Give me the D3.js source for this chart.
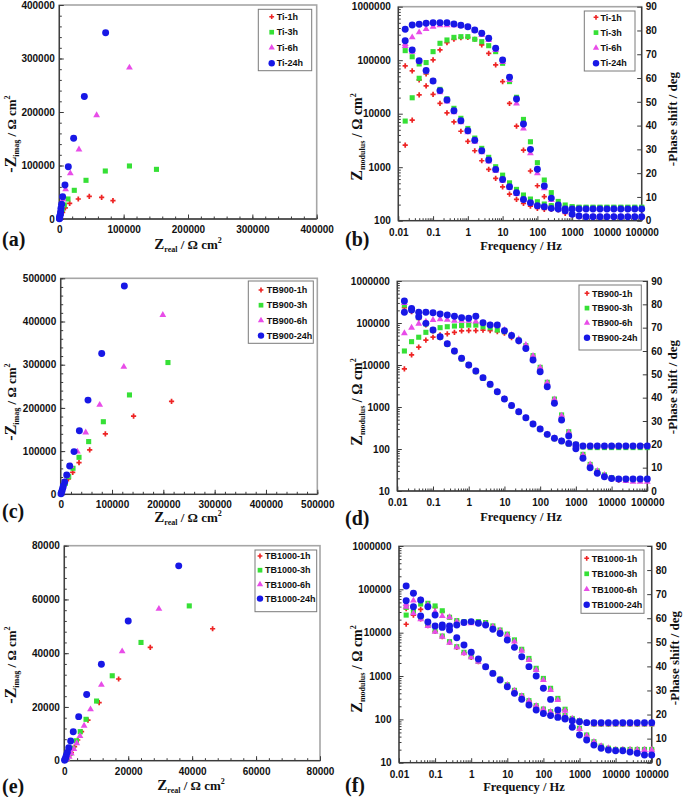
<!DOCTYPE html>
<html><head><meta charset="utf-8">
<script src="https://cdn.jsdelivr.net/npm/d3@7/dist/d3.min.js"></script>
<style>body{margin:0;background:#fff}svg{display:block}</style>
</head><body>
<svg id="c" width="685" height="797"></svg>
<script>
// ---------------- DATA ----------------
const freq = [0.0158,0.0251,0.0398,0.0631,0.1,0.158,0.251,0.398,0.631,1,1.58,2.51,3.98,6.31,10,15.8,25.1,39.8,63.1,100,158,251,398,631,1000,1580,2510,3980,6310,10000,15800,25100,39800,63100,100000];

const tiNames = ["Ti-1h","Ti-3h","Ti-6h","Ti-24h"];
const tb900Names = ["TB900-1h","TB900-3h","TB900-6h","TB900-24h"];
const tb1000Names = ["TB1000-1h","TB1000-3h","TB1000-6h","TB1000-24h"];

const nyqTicksA = [0,100000,200000,300000,400000];
const nyqTicksC = [0,100000,200000,300000,400000,500000];
const nyqTicksE = [0,20000,40000,60000,80000];
const freqTicks = [0.01,0.1,1,10,100,1000,10000,100000];
const modTicksB = [100,1000,10000,100000,1000000];
const modTicksDF = [10,100,1000,10000,100000,1000000];
const phaseTicks = [0,10,20,30,40,50,60,70,80,90];

// Nyquist (a) [Zreal, -Zimag]
const ti1hNyq = [[83400,34300],[65800,40500],[46600,42400],[29500,37400],[16100,29300],[9300,20600],[5200,12500],[3100,7500],[1600,3700],[800,1600],[300,500]];
const ti3hNyq = [[151000,92800],[109000,99100],[71500,89700],[41500,72300],[23300,53600],[13500,37400],[7800,26200],[4700,18100],[2600,10600],[1000,5600],[500,2500],[200,800]];
const ti6hNyq = [[109000,283000],[58000,194000],[30600,130000],[17100,85400],[9800,55500],[5700,36800],[3600,26200],[2100,16800],[1200,10000],[700,5500],[300,2500],[100,800]];
const ti24hNyq = [[72000,348000],[38900,229000],[22300,151000],[14000,97800],[8800,63600],[5200,41700],[3600,27400],[2600,20000],[2100,13700],[1600,8700],[1000,5600],[500,3100],[400,1200],[200,600]];

// Bode (b)
const ti1hMod = [78000,63000,43000,33000,23000,15600,10400,7000,4700,3040,2030,1320,910,620,430,315,250,211,188,170,163,163,163,163,163,163,163,163,163,163,163,163,163,163,163];
const ti1hPhase = [31.8,42.3,52.9,61.7,67.6,71.8,74.9,76.3,77.0,77.1,76.3,73.9,70.4,65.5,58.5,49.3,39.8,29.7,20.9,14.7,10.1,6.3,4.5,3.1,2.4,1.7,1.7,1.7,1.7,1.7,1.7,1.7,1.7,1.7,1.7];
const ti3hMod = [151000,116000,85000,61000,41000,28500,19000,12600,8200,5300,3500,2250,1530,1020,710,510,385,302,254,226,205,191,183,178,178,178,178,178,178,178,178,178,178,178,178];
const ti3hPhase = [41.9,51.7,59.9,66.5,71.1,74.6,76.0,77.1,77.4,77.4,76.3,75.3,73.6,71.1,66.2,58.5,51.9,42.6,33.2,24.4,17.1,11.8,8.1,6.6,5.9,5.6,5.6,5.6,5.6,5.6,5.6,5.6,5.6,5.6,5.6];
const ti6hMod = [184000,144000,94000,61000,40000,25000,16800,10600,6900,4500,3000,1890,1270,860,560,414,315,243,211,188,178,170,165,165,165,165,165,165,165,165,165,165,165,165,165];
const ti6hPhase = [74.3,77.1,79.2,80.6,81.6,82.2,82.2,82.2,81.9,81.3,79.9,78.1,76.0,71.8,66.7,59.2,49.3,38.8,28.3,19.9,13.6,8.7,5.9,3.8,2.4,1.7,1.7,1.7,1.7,1.7,1.7,1.7,1.7,1.7,1.7];
const ti24hMod = [231000,155000,98000,64000,41000,27000,18000,11400,7400,4800,3200,2030,1360,910,590,430,334,250,217,191,183,170,165,165,165,165,165,165,165,165,165,165,165,165,165];
const ti24hPhase = [80.5,82.3,82.6,83.0,83.3,83.3,83.3,82.7,82.2,81.6,80.2,78.8,76.7,72.5,67.6,60.3,51.2,40.7,30.0,21.6,14.6,9.5,6.6,4.2,2.7,2.0,1.7,1.7,1.7,1.7,1.7,1.7,1.7,1.7,1.7];

// Nyquist (c)
const tb900_1hNyq = [[216000,215000],[142000,181000],[87000,140000],[56500,103000],[35700,73300],[23400,50900],[14900,35500],[9100,23900],[5200,16200],[2600,9300],[1300,4000],[500,1200]];
const tb900_3hNyq = [[209000,305000],[134000,230000],[83100,168000],[54500,122000],[35700,85600],[24000,60200],[15600,40900],[9100,25500],[5200,16200],[2600,9300],[1300,4000],[500,1200]];
const tb900_6hNyq = [[199000,415000],[123000,295000],[76000,207000],[48700,143000],[32500,98800],[20100,65600],[13000,43200],[7800,28500],[5200,17700],[2600,10000],[1300,4500],[500,1500]];
const tb900_24hNyq = [[124000,482000],[79900,326000],[53200,218000],[36400,147000],[26000,98800],[17500,65600],[11700,44800],[7800,28500],[5200,20000],[3900,13900],[2600,8500],[1300,3900],[650,1500]];

// Bode (d)
const tb900_1hMod = [232000,186000,129000,90000,65000,44800,31000,20800,13900,9640,6940,4820,3340,2280,1520,1060,760,547,387,294,219,176,152,134,124,116,116,116,116,116,116,116,116,116,116];
const tb900_1hPhase = [52.3,58.3,61.7,64.7,65.9,66.9,67.3,68.0,68.6,68.7,68.7,68.9,68.7,68.3,67.6,65.7,64.0,61.9,57.6,52.6,46.1,39.0,32.1,25.0,19.7,15.4,11.1,8.3,6.6,5.4,4.7,4.7,4.7,4.7,4.7];
const tb900_3hMod = [268000,204000,134000,95000,66000,45600,31000,20800,13900,9820,6940,4820,3340,2280,1520,1060,760,547,387,294,219,176,150,132,120,112,108,108,108,108,108,108,108,108,108];
const tb900_3hPhase = [60.0,64.0,65.9,68.0,69.0,70.0,70.4,70.7,70.9,71.1,71.1,70.4,70.0,69.0,68.3,66.6,64.7,62.3,58.0,53.0,46.6,39.4,32.6,25.4,20.0,15.7,11.4,8.6,6.9,5.7,5.0,5.0,5.0,5.0,5.0];
const tb900_6hMod = [299000,211000,134000,102000,67000,46500,31600,21100,14200,9820,7070,4900,3400,2320,1550,1080,774,557,394,299,223,180,155,136,124,114,114,114,114,114,114,114,114,114,114];
const tb900_6hPhase = [67.6,70.0,71.7,72.6,73.3,73.6,73.4,73.0,72.9,72.9,72.6,71.9,71.1,70.9,69.0,66.9,65.1,62.6,57.9,52.9,46.4,39.3,32.3,25.1,19.7,15.4,11.4,8.6,6.9,5.4,4.7,4.3,4.0,4.0,4.0];
const tb900_24hMod = [334000,223000,141000,98000,68000,47300,32200,21500,14400,10000,7200,5000,3470,2320,1550,1080,774,557,394,299,223,180,155,136,127,118,118,118,118,118,118,118,118,118,118];
const tb900_24hPhase = [76.6,77.6,76.6,76.6,76.4,75.9,75.4,74.9,74.3,74.0,74.9,72.1,71.1,71.1,68.7,66.6,64.4,61.1,56.1,51.1,44.7,37.6,30.4,23.6,18.1,14.0,10.0,7.6,6.1,5.4,5.1,5.1,5.1,5.1,5.1];

// Nyquist (e)
const tb1000_1hNyq = [[46400,49100],[26900,42200],[17000,30400],[10900,21600],[7400,15100],[5400,10800],[4200,7700],[3200,5200],[2200,3000],[1400,1500],[700,600],[300,200]];
const tb1000_3hNyq = [[39100,57600],[24000,44000],[15000,31600],[10100,22200],[6800,15400],[5000,10800],[3800,7400],[2700,4600],[1800,2700],[1000,1200],[400,400]];
const tb1000_6hNyq = [[29600,56500],[18100,40700],[11600,28200],[8200,19100],[6200,13000],[4900,9200],[3900,6500],[3000,4300],[2200,2700],[1500,1500],[800,700],[300,200]];
const tb1000_24hNyq = [[35800,72500],[20000,52000],[11600,35900],[7000,24600],[4500,16400],[2800,10800],[2000,7300],[1400,4800],[940,3100],[630,1900],[400,1000],[200,500],[100,200]];

// Bode (f)
const tb1000_1hMod = [35800,27900,20700,14500,10700,8090,5980,4590,3400,2700,2140,1580,1150,838,620,459,345,265,203,170,148,133,119,104,92,84,77,77,77,77,77,77,77,77,77];
const tb1000_1hPhase = [57.5,61.3,63.7,65.1,64.5,62.7,60.4,59.0,58.4,58.4,58.4,57.9,56.5,54.8,53.0,50.5,46.8,42.9,38.8,34.6,30.5,26.3,21.9,17.4,14.0,11.4,8.6,6.9,6.0,5.5,5.5,5.5,5.5,5.5,5.5];
const tb1000_3hMod = [38400,29500,21400,15000,11100,8380,6200,4750,3520,2790,2180,1610,1170,853,631,467,352,270,207,173,150,135,122,105,93,85,78,78,78,78,78,78,78,78,78];
const tb1000_3hPhase = [61.3,64.1,65.9,66.2,65.1,63.1,60.4,59.0,58.6,58.6,58.6,58.2,56.8,55.1,53.4,51.0,47.1,43.3,39.2,35.0,30.9,26.7,22.2,17.7,14.3,11.5,8.7,6.9,6.0,5.5,5.5,5.5,5.5,5.5,5.5];
const tb1000_6hMod = [39800,27900,20300,14300,10500,8090,5880,4590,3340,2700,2140,1580,1150,838,620,459,345,265,203,170,148,133,119,104,92,84,77,77,77,77,77,77,77,77,77];
const tb1000_6hPhase = [65.9,67.3,67.6,65.5,62.7,60.9,60.4,58.6,57.9,57.9,57.9,57.6,56.5,54.8,53.0,50.3,46.5,42.6,38.5,34.3,30.2,26.0,21.6,17.4,14.0,11.2,8.6,6.9,6.0,5.3,5.3,5.3,5.3,5.3,5.3];
const tb1000_24hMod = [119000,80900,56700,39800,25600,15000,11500,7670,5190,3520,2470,1640,1150,809,567,398,290,214,164,137,122,111,102,93,88,84,84,84,84,84,84,84,84,84,84];
const tb1000_24hPhase = [67.3,64.8,60.9,58.4,56.8,56.2,56.8,57.2,58.2,58.6,57.9,57.2,55.4,53.7,51.0,47.9,44.0,39.9,36.0,30.9,26.3,21.9,18.4,14.7,11.5,9.4,7.3,6.0,5.3,5.0,5.0,4.4,3.9,3.2,3.2];

// ---------------- DRAWING ----------------
const SANS = '"Liberation Sans", Arial, sans-serif';
const SERIF = '"Liberation Serif", "Times New Roman", serif';
const styles = [
  {color:'#ee2424', sym:d3.symbolCross, size:15},
  {color:'#36e036', sym:d3.symbolSquare, size:26},
  {color:'#e84ce8', sym:d3.symbolTriangle, size:20},
  {color:'#1818e6', sym:d3.symbolCircle, size:38}
];
const svg = d3.select('#c');
const AX = '#3a3a3a';

function styleAxis(sel) {
  sel.attr('font-family', SANS).attr('font-size', 10).attr('font-weight', 'bold');
  sel.select('.domain').remove();
  sel.selectAll('line').attr('stroke', AX).attr('stroke-width', 1);
  sel.selectAll('text').attr('fill', '#111');
}

function rich(g, x, y, parts, rotate) {
  const t = g.append('text').attr('font-family', SERIF).attr('font-weight', 'bold')
    .attr('text-anchor', 'middle').attr('fill', '#111')
    .attr('transform', `translate(${x},${y})` + (rotate ? ' rotate(-90)' : ''));
  let cur = 0;
  parts.forEach(p => {
    const off = p.dy || 0;
    t.append('tspan').attr('font-size', p.size).attr('dy', off - cur).text(p.t);
    cur = off;
  });
}

function frame(g, c, rightDark) {
  g.append('rect').attr('x', c.x0).attr('y', c.y0).attr('width', c.x1 - c.x0).attr('height', c.y1 - c.y0)
    .attr('fill', 'none').attr('stroke', '#a6a6a6').attr('stroke-width', 1.6);
  g.append('line').attr('x1', c.x0).attr('x2', c.x0).attr('y1', c.y0).attr('y2', c.y1).attr('stroke', AX).attr('stroke-width', 1.3);
  g.append('line').attr('x1', c.x0).attr('x2', c.x1).attr('y1', c.y1).attr('y2', c.y1).attr('stroke', AX).attr('stroke-width', 1.3);
  if (rightDark) g.append('line').attr('x1', c.x1).attr('x2', c.x1).attr('y1', c.y0).attr('y2', c.y1).attr('stroke', AX).attr('stroke-width', 1.3);
}

function legend(g, L, names) {
  g.append('rect').attr('x', L.x).attr('y', L.y).attr('width', L.w).attr('height', L.h)
    .attr('fill', '#fff').attr('stroke', '#7a7a7a').attr('stroke-width', 1);
  names.forEach((n, i) => {
    const yy = L.r0 + i * L.dr;
    const s = styles[i];
    g.append('path').attr('d', d3.symbol().type(s.sym).size(s.size * 0.85)())
      .attr('transform', `translate(${L.mx},${yy})`).attr('fill', s.color);
    g.append('text').attr('x', L.tx).attr('y', yy + 3.2).attr('font-family', SANS).attr('font-weight', 'bold')
      .attr('font-size', 9).attr('fill', '#111').text(n);
  });
}

function plotPoints(g, pts, s) {
  g.selectAll(null).data(pts).enter().append('path')
    .attr('d', d3.symbol().type(s.sym).size(s.size)())
    .attr('transform', d => `translate(${d[0]},${d[1]})`)
    .attr('fill', s.color);
}

function nyquist(c) {
  const g = svg.append('g');
  const x = d3.scaleLinear().domain([0, c.max]).range([c.x0, c.x1]);
  const y = d3.scaleLinear().domain([0, c.max]).range([c.y1, c.y0]);
  frame(g, c, false);
  const minor = d3.range(0, c.max + 1, c.minor);
  g.append('g').attr('transform', `translate(${c.x0},0)`).call(d3.axisLeft(y).tickValues(minor).tickSize(-2.5).tickFormat('')).call(styleAxis);
  g.append('g').attr('transform', `translate(0,${c.y1})`).call(d3.axisBottom(x).tickValues(minor).tickSize(-2.5).tickFormat('')).call(styleAxis);
  g.append('g').attr('transform', `translate(${c.x0},0)`).call(d3.axisLeft(y).tickValues(c.ticks).tickSize(-4.5).tickPadding(4.5).tickFormat(d3.format('d'))).call(styleAxis);
  g.append('g').attr('transform', `translate(0,${c.y1})`).call(d3.axisBottom(x).tickValues(c.ticks).tickSize(-4.5).tickPadding(7).tickFormat(d3.format('d'))).call(styleAxis);
  c.data.forEach((ser, i) => plotPoints(g, ser.map(d => [x(d[0]), y(d[1])]), styles[i]));
  legend(g, c.leg, c.names);
  rich(g, c.xt[0], c.xt[1], [{t:'Z', size:15}, {t:'real', size:8, dy:3}, {t:' / Ω cm', size:13}, {t:'2', size:8, dy:-6}], false);
  rich(g, c.yt[0], c.yt[1], [{t:'-Z', size:16}, {t:'imag', size:8, dy:3}, {t:' / Ω cm', size:13}, {t:'2', size:8, dy:-6}], true);
  g.append('text').attr('x', c.lab[0]).attr('y', c.lab[1]).attr('font-family', SERIF).attr('font-weight', 'bold')
    .attr('font-size', 20).attr('fill', '#111').text(c.label);
}

function bode(c) {
  const g = svg.append('g');
  const x = d3.scaleLog().domain([0.01, 100000]).range([c.x0, c.x1]);
  const y = d3.scaleLog().domain(c.ydom).range([c.y1, c.y0]);
  const yp = d3.scaleLinear().domain([0, 90]).range([c.y1, c.y0]);
  frame(g, c, true);
  const minorX = [], minorY = [];
  freqTicks.forEach(t => { if (t < 100000) [2,3,4,5,6,7,8,9].forEach(m => minorX.push(t * m)); });
  c.yticks.forEach(t => { if (t < c.ydom[1]) [2,3,4,5,6,7,8,9].forEach(m => minorY.push(t * m)); });
  g.append('g').attr('transform', `translate(0,${c.y1})`).call(d3.axisBottom(x).tickValues(minorX).tickSize(-2.5).tickFormat('')).call(styleAxis);
  g.append('g').attr('transform', `translate(${c.x0},0)`).call(d3.axisLeft(y).tickValues(minorY).tickSize(-2.5).tickFormat('')).call(styleAxis);
  g.append('g').attr('transform', `translate(0,${c.y1})`).call(d3.axisBottom(x).tickValues(freqTicks).tickSize(-4.5).tickPadding(c.xpad)
    .tickFormat(d => d < 1 ? String(d) : d3.format('d')(d))).call(styleAxis);
  g.append('g').attr('transform', `translate(${c.x0},0)`).call(d3.axisLeft(y).tickValues(c.yticks).tickSize(-4.5).tickPadding(7.5).tickFormat(d3.format('d'))).call(styleAxis);
  g.append('g').attr('transform', `translate(${c.x1},0)`).call(d3.axisRight(yp).tickValues(phaseTicks).tickSize(-4.5).tickPadding(4)).call(styleAxis);
  c.mods.forEach((m, i) => {
    plotPoints(g, m.map((v, k) => [x(freq[k]), y(v)]), styles[i]);
    plotPoints(g, c.phases[i].map((v, k) => [x(freq[k]), yp(v)]), styles[i]);
  });
  legend(g, c.leg, c.names);
  rich(g, c.xt[0], c.xt[1], [{t:'Frequency / Hz', size:12.5}], false);
  rich(g, c.yt[0], c.yt[1], [{t:'Z', size:16}, {t:'modulus', size:8, dy:3}, {t:' / Ω cm', size:14}, {t:'2', size:8, dy:-6}], true);
  rich(g, c.pt[0], c.pt[1], [{t:'-Phase shift / deg', size:13}], true);
  g.append('text').attr('x', c.lab[0]).attr('y', c.lab[1]).attr('font-family', SERIF).attr('font-weight', 'bold')
    .attr('font-size', 20).attr('fill', '#111').text(c.label);
}

nyquist({x0:59.3, x1:316.7, y0:5, y1:219, max:400000, ticks:nyqTicksA, minor:20000,
  data:[ti1hNyq, ti3hNyq, ti6hNyq, ti24hNyq], names:tiNames,
  leg:{x:258.3, y:9.3, w:53.4, h:61.4, r0:16.7, dr:15.5, mx:271.7, tx:276.7},
  xt:[188, 249], yt:[16, 134], lab:[2, 246], label:'(a)'});
nyquist({x0:60.7, x1:317.3, y0:278.3, y1:494.3, max:500000, ticks:nyqTicksC, minor:20000,
  data:[tb900_1hNyq, tb900_3hNyq, tb900_6hNyq, tb900_24hNyq], names:tb900Names,
  leg:{x:248.3, y:281, w:65, h:62.3, r0:290, dr:15.2, mx:261, tx:266.7},
  xt:[188, 522], yt:[16, 402], lab:[2, 518], label:'(c)'});
nyquist({x0:64.3, x1:320, y0:545.7, y1:760.7, max:80000, ticks:nyqTicksE, minor:4000,
  data:[tb1000_1hNyq, tb1000_3hNyq, tb1000_6hNyq, tb1000_24hNyq], names:tb1000Names,
  leg:{x:255, y:550, w:61.7, h:61.7, r0:556, dr:14.2, mx:260, tx:265},
  xt:[191, 790], yt:[16, 665], lab:[2, 793], label:'(e)'});

bode({x0:398.3, x1:641.7, y0:6.7, y1:220.7, ydom:[100, 1000000], yticks:modTicksB, xpad:8.5,
  mods:[ti1hMod, ti3hMod, ti6hMod, ti24hMod], phases:[ti1hPhase, ti3hPhase, ti6hPhase, ti24hPhase], names:tiNames,
  leg:{x:584.3, y:11, w:50.7, h:60, r0:17.3, dr:15.3, mx:596, tx:600.5},
  xt:[521, 250], yt:[362, 137], pt:[677, 119], lab:[345, 246], label:'(b)'});
bode({x0:397.3, x1:647.3, y0:281, y1:491, ydom:[10, 1000000], yticks:modTicksDF, xpad:7.5,
  mods:[tb900_1hMod, tb900_3hMod, tb900_6hMod, tb900_24hMod], phases:[tb900_1hPhase, tb900_3hPhase, tb900_6hPhase, tb900_24hPhase], names:tb900Names,
  leg:{x:579, y:285, w:62.3, h:65, r0:293.3, dr:14.8, mx:587, tx:592},
  xt:[521, 521], yt:[362, 402], pt:[677, 387], lab:[345, 525], label:'(d)'});
bode({x0:399, x1:651.7, y0:546, y1:762.7, ydom:[10, 1000000], yticks:modTicksDF, xpad:8.5,
  mods:[tb1000_1hMod, tb1000_3hMod, tb1000_6hMod, tb1000_24hMod], phases:[tb1000_1hPhase, tb1000_3hPhase, tb1000_6hPhase, tb1000_24hPhase], names:tb1000Names,
  leg:{x:581, y:550, w:63, h:63.3, r0:558.3, dr:15.5, mx:586.7, tx:591.7},
  xt:[524, 791], yt:[362, 669], pt:[679, 658], lab:[345, 792], label:'(f)'});
</script>
</body></html>
